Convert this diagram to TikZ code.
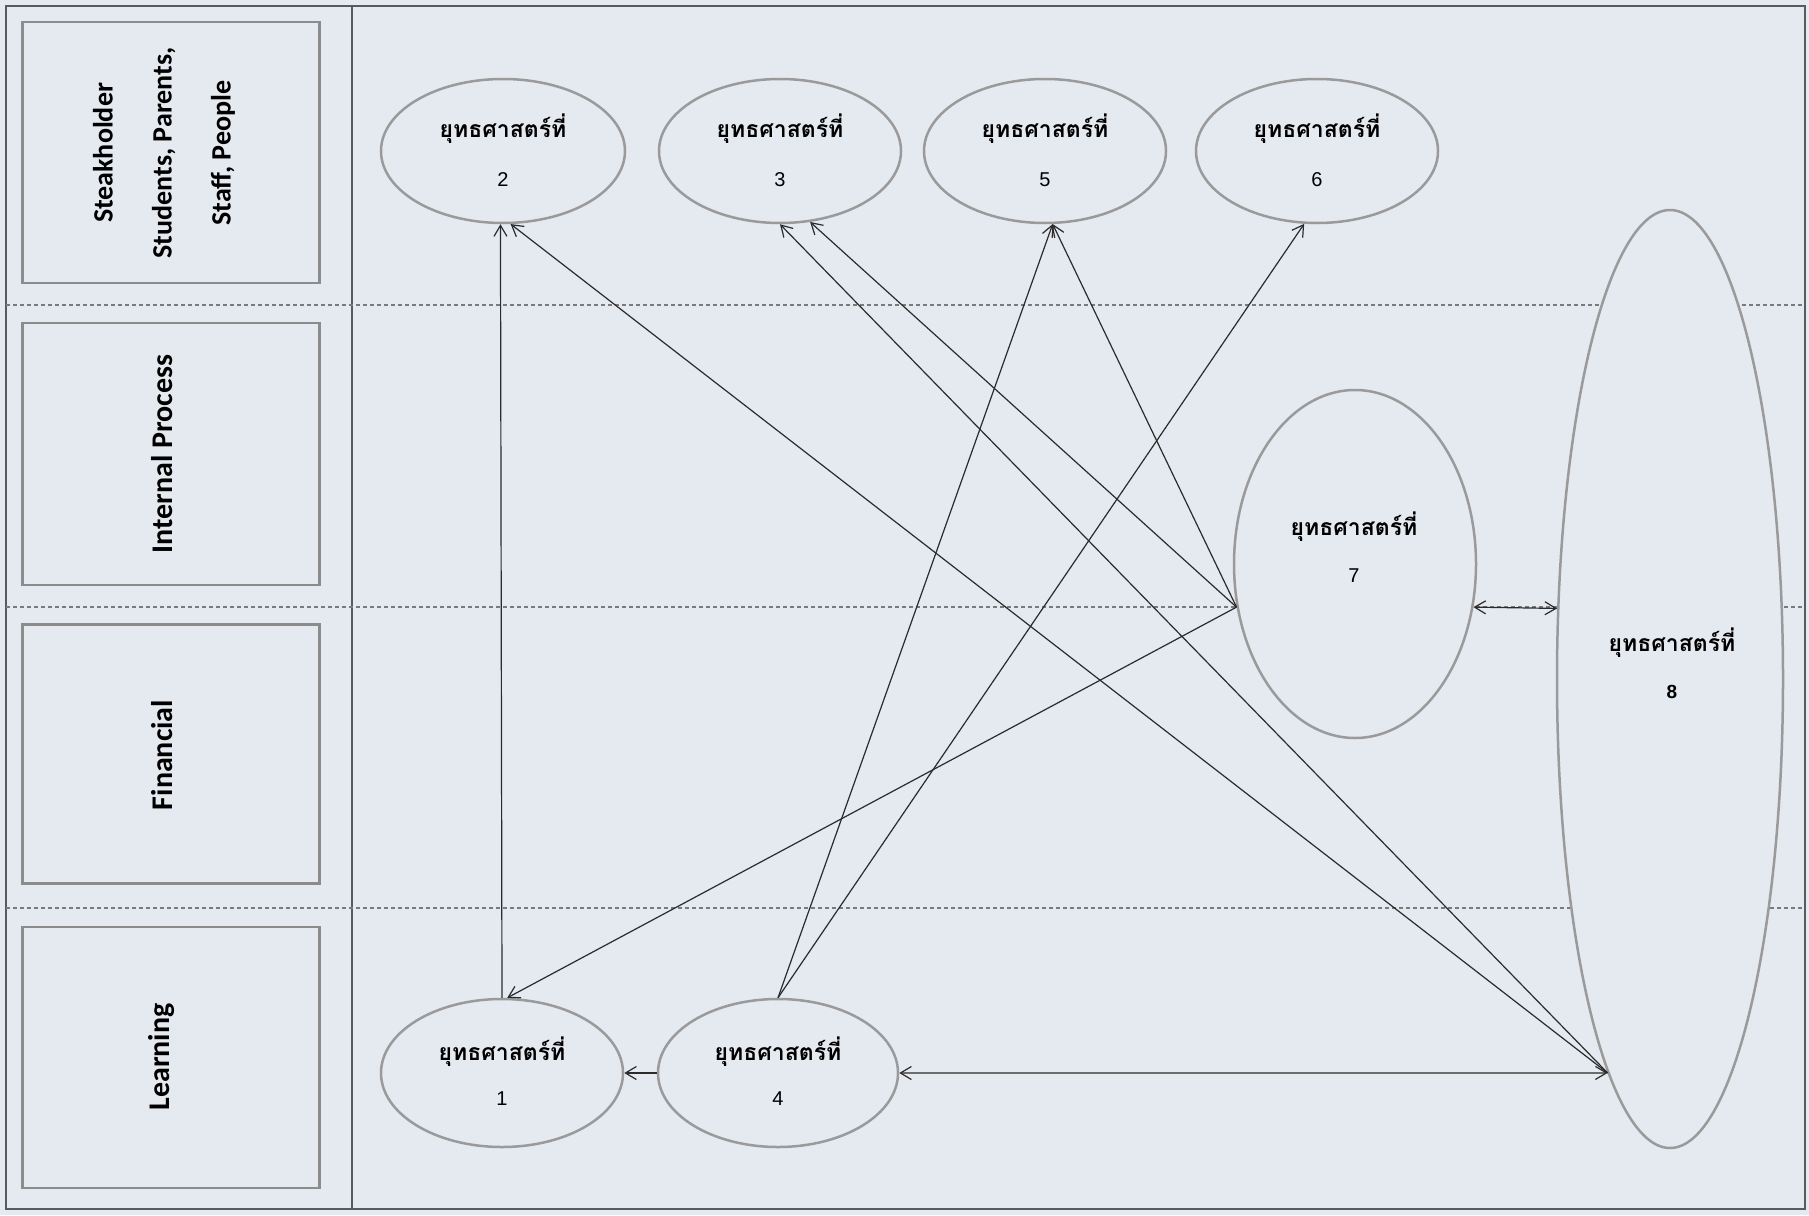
\documentclass[tikz,border=0pt]{standalone}
\usepackage{fontspec}
\usetikzlibrary{shapes.geometric,arrows.meta}
\newfontfamily\thaifont[Script=Thai]{Loma}
\newfontfamily\numfont{Liberation Sans}
\newfontfamily\labfont{Carlito}
\definecolor{bgc}{HTML}{E5E9F0}
\definecolor{elc}{HTML}{9A9A9A}
\definecolor{lnc}{HTML}{2B2B2B}
\definecolor{frc}{HTML}{5A5A5A}
\definecolor{dsc}{HTML}{7A7A7A}
\definecolor{bxc}{HTML}{8C8C8C}
\begin{document}
\begin{tikzpicture}[x=1pt,y=-1pt,
  strat/.style={ellipse, draw=elc, line width=2.5pt, fill=bgc, inner sep=0pt},
  thaitxt/.style={font=\thaifont\bfseries\fontsize{23}{28}\selectfont, inner sep=0pt},
  numtxt/.style={font=\numfont\fontsize{20}{24}\selectfont, inner sep=0pt},
  labbox/.style={draw=bxc, line width=2.5pt, fill=bgc, inner sep=0pt, minimum width=297pt},
  labtxt/.style={font=\labfont\bfseries\fontsize{28}{59}\selectfont, rotate=90, align=center, inner sep=0pt},
  lanetxt/.style={font=\labfont\bfseries\fontsize{30}{36}\selectfont, rotate=90, inner sep=0pt},
  conn/.style={draw=lnc, line width=1.2pt},
  tipone/.style={-{Straight Barb[length=11pt,width=13pt]}},
  tipboth/.style={{Straight Barb[length=11pt,width=13pt]}-{Straight Barb[length=11pt,width=13pt]}},
  sepline/.style={draw=dsc, line width=1.2pt, dash pattern=on 4pt off 3pt}
]
\fill[bgc] (0,0) rectangle (1809,1215);
\useasboundingbox (0,0) rectangle (1809,1215);

% frame and lanes
\draw[frc, line width=1.5pt] (6,6) rectangle (1805,1209);
\draw[frc, line width=1.5pt] (352,6) -- (352,1209);
\draw[sepline] (6,305) -- (1805,305);
\draw[sepline] (6,607) -- (1805,607);
\draw[sepline] (6,908) -- (1805,908);

% lane labels
\node[labbox, minimum height=261pt] (B1) at (171,152.5) {};
\node[labbox, minimum height=262pt] (B2) at (171,454) {};
\node[labbox, minimum height=259pt] (B3) at (171,754) {};
\node[labbox, minimum height=261pt] (B4) at (171,1057.5) {};
\node[labtxt] (L1) at (164,153) {Steakholder\\Students, Parents,\\Staff, People};
\node[lanetxt] (L2) at (162,454) {Internal Process};
\node[lanetxt] (L3) at (162,755) {Financial};
\node[lanetxt] (L4) at (162,1057) {Learning};

% strategies
\node[strat, minimum width=244pt, minimum height=144pt] (E2) at (503,151) {};
\node[strat, minimum width=242pt, minimum height=144pt] (E3) at (780,151) {};
\node[strat, minimum width=242pt, minimum height=144pt] (E5) at (1045,151) {};
\node[strat, minimum width=242pt, minimum height=144pt] (E6) at (1317,151) {};
\node[strat, minimum width=242pt, minimum height=148pt] (E1) at (502,1073) {};
\node[strat, minimum width=240pt, minimum height=148pt] (E4) at (778,1073) {};
\node[strat, minimum width=242pt, minimum height=348pt] (E7) at (1355,564) {};
\node[strat, minimum width=226pt, minimum height=938pt] (E8) at (1670,679) {};

\node[thaitxt] (t2) at (503,129) {ยุทธศาสตร์ที่};
\node[numtxt]  (n2) at (503,180) {2};
\node[thaitxt] (t3) at (780,129) {ยุทธศาสตร์ที่};
\node[numtxt]  (n3) at (780,180) {3};
\node[thaitxt] (t5) at (1045,129) {ยุทธศาสตร์ที่};
\node[numtxt]  (n5) at (1045,180) {5};
\node[thaitxt] (t6) at (1317,129) {ยุทธศาสตร์ที่};
\node[numtxt]  (n6) at (1317,180) {6};
\node[thaitxt] (t1) at (502,1052) {ยุทธศาสตร์ที่};
\node[numtxt]  (n1) at (502,1099) {1};
\node[thaitxt] (t4) at (778,1052) {ยุทธศาสตร์ที่};
\node[numtxt]  (n4) at (778,1099) {4};
\node[thaitxt] (t7) at (1354,527) {ยุทธศาสตร์ที่};
\node[numtxt]  (n7) at (1354,576) {7};
\node[thaitxt] (t8) at (1672,643) {ยุทธศาสตร์ที่};
\node[numtxt, font=\numfont\bfseries\fontsize{19}{23}\selectfont] (n8) at (1672,692) {8};

% connectors
\draw[conn, tipone] (E1.north) -- (E2.-92);
\draw[conn, tipone] (E8.261) -- (E2.-84);
\draw[conn, tipone] (E8.261) -- (E3.south);
\draw[conn, tipone] (E7.200) -- (E3.-67);
\draw[conn, tipone] (E7.200) -- (E5.-84);
\draw[conn, tipone] (E4.north) -- (E5.-84);
\draw[conn, tipone] (E4.north) -- (E6.-100);
\draw[conn, tipone] (E7.200) -- (E1.86);
\draw[conn, tipone] (E4.west) -- (E1.east);
\draw[conn, tipboth] (E4.east) -- (E8.261);
\draw[conn, tipboth] (E7.-20) -- (E8.148);
\end{tikzpicture}
\end{document}
